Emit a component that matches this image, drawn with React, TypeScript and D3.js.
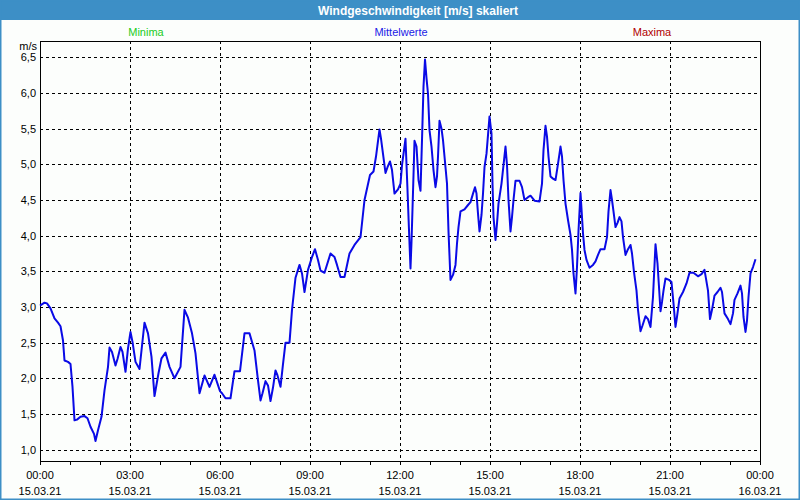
import React from "react";
import * as d3 from "d3";

const TITLE = "Windgeschwindigkeit [m/s] skaliert";
const LEGEND = ["Minima", "Mittelwerte", "Maxima"];
const UNIT = "m/s";

// minutes since 15.03.21 00:00
const TIMES = [
  0, 9, 14, 21, 29, 36, 41, 46, 49, 56, 61, 65, 69, 74, 81, 89, 95, 101, 108, 111,
  116, 123, 129, 136, 139, 144, 151, 155, 161, 165, 171, 176, 181, 185, 191, 199, 209, 216, 223, 229,
  237, 243, 251, 259, 269, 281, 289, 296, 304, 311, 319, 329, 339, 349, 360, 364, 371, 381, 389, 400,
  409, 419, 429, 436, 441, 445, 451, 456, 461, 466, 471, 475, 481, 486, 491, 499, 504, 511, 519, 524,
  529, 536, 544, 550, 556, 561, 569, 581, 589, 594, 601, 609, 619, 629, 641, 649, 660, 667, 672, 679,
  682, 691, 695, 700, 704, 709, 716, 721, 724, 728, 731, 735, 737, 741, 743, 746, 749, 753, 757, 761,
  764, 767, 770, 773, 776, 779, 783, 787, 791, 794, 796, 799, 803, 806, 809, 814, 817, 821, 826, 831,
  834, 837, 841, 849, 856, 861, 866, 870, 873, 876, 879, 883, 886, 889, 893, 896, 899, 903, 905, 907,
  911, 914, 917, 923, 927, 931, 934, 937, 941, 944, 947, 951, 959, 964, 969, 976, 981, 989, 999, 1004,
  1007, 1011, 1014, 1017, 1021, 1026, 1031, 1035, 1039, 1041, 1044, 1047, 1051, 1056, 1061, 1064, 1067, 1071, 1074, 1077,
  1081, 1084, 1086, 1089, 1093, 1099, 1106, 1111, 1116, 1121, 1129, 1134, 1137, 1141, 1144, 1147, 1151, 1155, 1159, 1163,
  1166, 1171, 1176, 1181, 1184, 1188, 1193, 1196, 1201, 1205, 1211, 1216, 1221, 1226, 1231, 1235, 1238, 1241, 1244, 1247,
  1251, 1258, 1263, 1267, 1271, 1274, 1279, 1286, 1293, 1299, 1307, 1316, 1323, 1329, 1336, 1340, 1344, 1349, 1355, 1361,
  1364, 1369, 1376, 1381, 1386, 1389, 1395, 1401, 1404, 1407, 1411, 1414, 1417, 1421, 1426, 1431,
];

const VALUES = [
  3.02, 3.06, 3.05, 2.98, 2.84, 2.78, 2.73, 2.53, 2.25, 2.23, 2.2, 1.88, 1.41, 1.42, 1.46, 1.47, 1.44, 1.32, 1.22, 1.12,
  1.27, 1.46, 1.83, 2.16, 2.43, 2.37, 2.18, 2.27, 2.44, 2.37, 2.09, 2.42, 2.65, 2.51, 2.23, 2.13, 2.78, 2.63, 2.3, 1.75,
  2.07, 2.28, 2.36, 2.16, 2.0, 2.16, 2.96, 2.85, 2.63, 2.35, 1.79, 2.04, 1.88, 2.05, 1.82, 1.79, 1.72, 1.72, 2.1, 2.1,
  2.63, 2.63, 2.39, 1.97, 1.69, 1.79, 1.96, 1.9, 1.68, 1.87, 2.11, 2.04, 1.88, 2.2, 2.5, 2.5, 2.96, 3.41, 3.59, 3.47,
  3.21, 3.52, 3.7, 3.81, 3.66, 3.51, 3.48, 3.75, 3.7, 3.59, 3.42, 3.42, 3.75, 3.87, 3.98, 4.5, 4.85, 4.9, 5.11, 5.49,
  5.36, 4.88, 4.96, 5.04, 4.92, 4.59, 4.65, 4.73, 4.99, 5.2, 5.36, 4.64, 4.26, 3.54, 3.91, 4.61, 5.33, 5.25, 4.78, 4.63,
  5.34, 6.09, 6.47, 6.21, 5.99, 5.48, 5.25, 4.92, 4.68, 4.83, 5.11, 5.61, 5.5, 5.34, 5.11, 4.73, 4.06, 3.38, 3.45, 3.59,
  3.89, 4.12, 4.34, 4.37, 4.43, 4.47, 4.59, 4.68, 4.59, 4.31, 4.06, 4.29, 4.59, 4.96, 5.15, 5.41, 5.67, 5.43, 4.73, 4.26,
  3.94, 4.17, 4.45, 4.73, 4.99, 5.25, 4.99, 4.5, 4.06, 4.26, 4.5, 4.77, 4.77, 4.68, 4.5, 4.54, 4.56, 4.49, 4.48, 4.73,
  5.2, 5.54, 5.39, 5.11, 4.83, 4.8, 4.78, 4.96, 5.15, 5.25, 5.11, 4.78, 4.45, 4.22, 4.01, 3.8, 3.47, 3.19, 3.56, 4.07,
  4.6, 4.26, 4.03, 3.8, 3.66, 3.55, 3.59, 3.64, 3.73, 3.81, 3.81, 3.98, 4.34, 4.64, 4.5, 4.34, 4.12, 4.18, 4.26, 4.2,
  3.98, 3.73, 3.81, 3.87, 3.75, 3.49, 3.23, 2.96, 2.66, 2.74, 2.87, 2.83, 2.72, 3.14, 3.88, 3.61, 3.28, 2.94, 3.07, 3.23,
  3.4, 3.38, 3.35, 3.05, 2.72, 2.86, 3.12, 3.21, 3.33, 3.48, 3.48, 3.43, 3.46, 3.52, 3.23, 2.83, 2.96, 3.16, 3.21, 3.27,
  3.21, 2.91, 2.83, 2.76, 2.91, 3.1, 3.19, 3.3, 3.19, 2.86, 2.65, 2.81, 3.14, 3.47, 3.56, 3.67,
];

const Y_TICKS = [1.0, 1.5, 2.0, 2.5, 3.0, 3.5, 4.0, 4.5, 5.0, 5.5, 6.0, 6.5];
const X_TICK_MINUTES = [0, 180, 360, 540, 720, 900, 1080, 1260, 1440];
const X_TICK_TIMES = ["00:00", "03:00", "06:00", "09:00", "12:00", "15:00", "18:00", "21:00", "00:00"];
const X_TICK_DATES = ["15.03.21", "15.03.21", "15.03.21", "15.03.21", "15.03.21", "15.03.21", "15.03.21", "15.03.21", "16.03.21"];

const W = 800;
const H = 500;
const L = 40;
const R = 760;
const T = 41;
const B = 461;
const FONT = "'Liberation Sans', Arial, sans-serif";

export default function App() {
  const x = d3.scaleLinear().domain([0, 1440]).range([L, R]);
  const y = d3.scaleLinear().domain([0.84, 6.73]).range([B, T]);
  const pts = TIMES.map((t, i) => [t, VALUES[i]] as [number, number]);
  const line = d3
    .line<[number, number]>()
    .x((d) => x(d[0]))
    .y((d) => y(d[1]));
  const hourTicks = d3.range(0, 1441, 60);
  const fmt = (v: number) => v.toFixed(1).replace(".", ",");

  return (
    <div style={{ position: "fixed", left: 0, top: 0, width: W, height: H }}>
      <svg width={W} height={H} style={{ display: "block", fontFamily: FONT }}>
        <rect x={0} y={0} width={W} height={H} fill="#fcfefc" />
        <rect x={0} y={0} width={W} height={20} fill="#3d8fc6" />
        <rect x={0.5} y={0.5} width={W - 1} height={H - 1} fill="none" stroke="#3d8fc6" strokeWidth={2} />
        <text x={418} y={14.5} fill="#ffffff" fontSize={12} fontWeight="bold" textAnchor="middle">
          {TITLE}
        </text>
        <text x={146} y={36} fill="#22cc22" fontSize={11} textAnchor="middle">{LEGEND[0]}</text>
        <text x={401} y={36} fill="#1a1ae6" fontSize={11} textAnchor="middle">{LEGEND[1]}</text>
        <text x={652} y={36} fill="#b00000" fontSize={11} textAnchor="middle">{LEGEND[2]}</text>
        <text x={37} y={50} fill="#000" fontSize={11} textAnchor="end">{UNIT}</text>

        {Y_TICKS.map((v) => (
          <g key={"y" + v}>
            <line x1={L} x2={R} y1={Math.round(y(v)) + 0.5} y2={Math.round(y(v)) + 0.5} stroke="#000" strokeDasharray="3,3" />
            <text x={36} y={y(v) + 4} fontSize={11} textAnchor="end" fill="#000">{fmt(v)}</text>
          </g>
        ))}
        {X_TICK_MINUTES.slice(1, -1).map((m) => (
          <line key={"vx" + m} x1={Math.round(x(m)) + 0.5} x2={Math.round(x(m)) + 0.5} y1={T} y2={B} stroke="#000" strokeDasharray="3,3" />
        ))}
        {hourTicks.map((m) => (
          <line key={"t" + m} x1={Math.round(x(m)) + 0.5} x2={Math.round(x(m)) + 0.5} y1={B} y2={B + 4} stroke="#000" />
        ))}
        {X_TICK_MINUTES.map((m, i) => (
          <g key={"xl" + i}>
            <text x={x(m)} y={479} fontSize={11} textAnchor="middle" fill="#000">{X_TICK_TIMES[i]}</text>
            <text x={x(m)} y={495} fontSize={11} textAnchor="middle" fill="#000">{X_TICK_DATES[i]}</text>
          </g>
        ))}
        <rect x={L + 0.5} y={T + 0.5} width={R - L} height={B - T} fill="none" stroke="#000" strokeWidth={1} />
        <path d={line(pts) || ""} fill="none" stroke="#0a0ae6" strokeWidth={2} strokeLinejoin="round" />
      </svg>
    </div>
  );
}
